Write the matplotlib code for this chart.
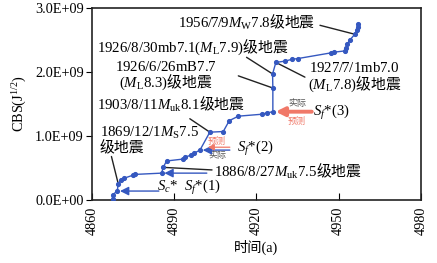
import matplotlib
matplotlib.use('Agg')
import matplotlib.pyplot as plt

plt.rcParams['font.family'] = ['Liberation Serif', 'Noto Sans CJK SC']
plt.rcParams['mathtext.fontset'] = 'custom'
plt.rcParams['mathtext.rm'] = 'Liberation Serif'
plt.rcParams['mathtext.it'] = 'Liberation Serif:italic'
plt.rcParams['font.size'] = 10.3

# cumulative Benioff strain (x1e9) vs time
years = [4867.5, 4867.5, 4869.2, 4869.6, 4870.5, 4871.7, 4875.1, 4875.7, 4885.4, 4886.0,
         4887.2, 4893.3, 4893.9, 4896.1, 4897.2, 4899.4, 4903.0, 4907.9, 4910.1, 4913.4,
         4921.9, 4923.7, 4926.0, 4926.0, 4925.9, 4927.1, 4930.4, 4933.1, 4935.1, 4947.3,
         4948.3, 4952.3, 4952.8, 4953.2, 4954.1, 4955.9, 4956.6, 4957.0, 4957.2]
cbs = [0.01, 0.08, 0.14, 0.25, 0.32, 0.34, 0.39, 0.40, 0.42, 0.51,
       0.61, 0.64, 0.67, 0.70, 0.73, 0.78, 1.06, 1.07, 1.24, 1.31,
       1.34, 1.36, 1.38, 1.75, 1.97, 2.15, 2.17, 2.20, 2.21, 2.30,
       2.31, 2.33, 2.37, 2.44, 2.50, 2.59, 2.65, 2.71, 2.75]
cbs = [v * 1e9 for v in cbs]

x_ticks = [4860, 4890, 4920, 4950, 4980]
y_ticks = [0, 1e9, 2e9, 3e9]
y_tick_labels = ['0.0E+00', '1.0E+09', '2.0E+09', '3.0E+09']

blue = '#3558c0'
red = '#f07868'
CJK = ['Noto Sans CJK SC']
LBL = 10.7  # annotation font size

fig = plt.figure(figsize=(4.37, 2.63), dpi=100)
ax = fig.add_axes([0.2105, 0.2395, 0.7525, 0.73])

ax.plot(years, cbs, '-', color=blue, lw=1.0, marker='o', ms=2.7, zorder=3)

ax.set_xlim(4860, 4980)
ax.set_ylim(0, 3e9)
ax.set_xticks(x_ticks)
ax.set_xticklabels([str(t) for t in x_ticks], rotation=90)
ax.set_yticks(y_ticks)
ax.set_yticklabels(y_tick_labels)
ax.tick_params(axis='x', direction='in', length=5, pad=5)
ax.tick_params(axis='y', direction='out', length=4, pad=2)
for s in ax.spines.values():
    s.set_linewidth(1.2)
    s.set_color('#222222')

ax.set_xlabel('时间(a)', labelpad=3)
ax.set_ylabel('CBS(J$^{1/2}$)', labelpad=4)


def label(x, y, s, **kw):
    # latin parts go through mathtext (serif), CJK parts use the text font
    ax.text(x, y, s, family=CJK, va='center', fontsize=LBL, **kw)


def leader(x0, y0, i):
    ax.annotate('', xy=(years[i], cbs[i]), xytext=(x0, y0),
                arrowprops=dict(arrowstyle='-', color='#222222', lw=1.0,
                                shrinkA=0, shrinkB=0), zorder=2)


def arrow(x0, i, color, lw):
    ax.annotate('', xy=(years[i], cbs[i]), xytext=(x0, cbs[i]),
                arrowprops=dict(arrowstyle='-|>,head_length=0.5,head_width=0.25',
                                color=color, lw=lw, shrinkA=0, shrinkB=2), zorder=4)


# earthquake labels
label(4891.4, 2.77e9, r'$\mathrm{1956/7/9}M_{\mathrm{W}}\mathrm{7.8}$级地震', ha='left')
leader(4943.2, 2.73e9, 35)

label(4861.8, 2.39e9, r'$\mathrm{1926/8/30mb7.1(}M_{\mathrm{L}}\mathrm{7.9)}$级地震', ha='left')
leader(4916.4, 2.23e9, 24)

label(4887.0, 1.94e9, '$\\mathrm{1926/6/26mB7.7}$\n$\\mathrm{(}M_{\\mathrm{L}}\\mathrm{8.3)}$级地震',
      ha='center', linespacing=0.95)
leader(4913.4, 1.94e9, 23)

label(4955.9, 1.91e9, '$\\mathrm{1927/7/1mb7.0}$\n$\\mathrm{(}M_{\\mathrm{L}}\\mathrm{7.8)}$级地震',
      ha='center', linespacing=0.95)
leader(4937.7, 1.92e9, 25)

label(4861.8, 1.50e9, r'$\mathrm{1903/8/11}M_{\mathrm{uk}}\mathrm{8.1}$级地震', ha='left')
leader(4895.7, 1.27e9, 16)

label(4862.9, 0.94e9, '$\\mathrm{1869/12/1}M_{\\mathrm{S}}\\mathrm{7.5}$\n级地震',
      ha='left', linespacing=1.0)
leader(4867.1, 0.68e9, 3)

label(4904.5, 0.44e9, r'$\mathrm{1886/8/27}M_{\mathrm{uk}}\mathrm{7.5}$级地震', ha='left')
leader(4903.8, 0.47e9, 9)

# S markers
ax.text(4883.7, 0.19e9, '$S_c$*  $S_f$*(1)', ha='left', va='center', fontsize=LBL)
arrow(4884.4, 2, blue, 1.0)
arrow(4901.9, 8, blue, 1.0)

ax.text(4912.9, 0.80e9, '$S_f$*(2)', ha='left', va='center', fontsize=LBL)
arrow(4910.3, 15, blue, 1.0)
ax.annotate('', xy=(4902.3, 0.825e9), xytext=(4910.3, 0.825e9),
            arrowprops=dict(arrowstyle='-|>,head_length=0.35,head_width=0.18',
                            color=red, lw=0.9, shrinkA=0, shrinkB=0), zorder=4)
ax.text(4905.6, 0.915e9, '预测', ha='center', va='center', fontsize=6.5, color=red)
ax.text(4905.6, 0.69e9, '实际', ha='center', va='center', fontsize=6.5, color='#555555')

ax.text(4940.6, 1.36e9, '$S_f$*(3)', ha='left', va='center', fontsize=LBL)
arrow(4940.2, 22, red, 2.8)
ax.text(4934.8, 1.50e9, '实际', ha='center', va='center', fontsize=6.5, color='#555555')
ax.text(4934.8, 1.23e9, '预测', ha='center', va='center', fontsize=6.5, color=red)

fig.savefig('out.png', dpi=100)
